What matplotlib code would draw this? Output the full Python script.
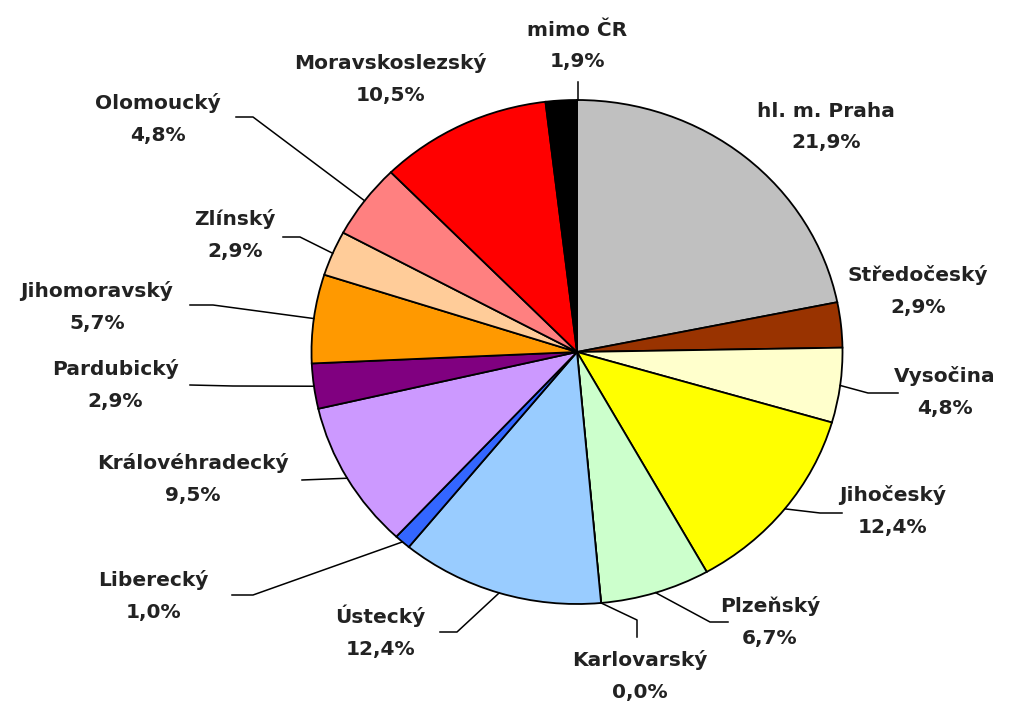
import numpy as np
import matplotlib
matplotlib.use("Agg")
import matplotlib.pyplot as plt

# ─── Data ─────────────────────────────────────────────────────────────
regions = ["hl. m. Praha", "Středočeský", "Vysočina", "Jihočeský", "Plzeňský",
           "Karlovarský", "Ústecký", "Liberecký", "Královéhradecký", "Pardubický",
           "Jihomoravský", "Zlínský", "Olomoucký", "Moravskoslezský", "mimo ČR"]
shares = [21.9, 2.9, 4.8, 12.4, 6.7, 0.0, 12.4, 1.0, 9.5, 2.9, 5.7, 2.9, 4.8, 10.5, 1.9]
share_labels = ["21,9%", "2,9%", "4,8%", "12,4%", "6,7%", "0,0%", "12,4%", "1,0%",
                "9,5%", "2,9%", "5,7%", "2,9%", "4,8%", "10,5%", "1,9%"]
colors = ["#C0C0C0", "#993300", "#FFFFCC", "#FFFF00", "#CCFFCC", "#FFFFFF",
          "#99CCFF", "#3366FF", "#CC99FF", "#800080", "#FF9900", "#FFCC99",
          "#FF8080", "#FF0000", "#000000"]

# ─── Layout (pixels in the 1018x702 image) ─────────────────────────────
W, H = 1018, 702
CX, CY = 577, 352       # pie centre
RX, RY = 265.5, 252     # pie radii (picture is slightly squashed)

label_pos = {
    "hl. m. Praha": (826, 127), "Středočeský": (918, 291), "Vysočina": (945, 392),
    "Jihočeský": (893, 511), "Plzeňský": (770, 622), "Karlovarský": (640, 676),
    "Ústecký": (380, 632), "Liberecký": (153, 596), "Královéhradecký": (193, 479),
    "Pardubický": (115, 385), "Jihomoravský": (97, 307), "Zlínský": (235, 235),
    "Olomoucký": (158, 119), "Moravskoslezský": (390, 79), "mimo ČR": (577, 46),
}
# leader elbows after the point on the pie edge
leaders = {
    "Vysočina": [(868, 393), (898, 393)],
    "Jihočeský": [(820, 513), (842, 513)],
    "Plzeňský": [(710, 622), (728, 622)],
    "Karlovarský": [(637, 620), (637, 637)],
    "Ústecký": [(457, 632), (440, 632)],
    "Liberecký": [(253, 595), (232, 595)],
    "Královéhradecký": [(302, 480)],
    "Pardubický": [(233, 386), (190, 385)],
    "Jihomoravský": [(213, 305), (190, 305)],
    "Zlínský": [(300, 237), (283, 237)],
    "Olomoucký": [(253, 117), (236, 117)],
    "mimo ČR": [(578, 82)],
}
# leader start points that don't sit at the wedge middle
leader_start = {"mimo ČR": (578, 100)}


def px(x, y):
    """Pixel position -> data coordinates of the full-figure axes."""
    return (x - CX) / RX, (CY - y) / RY


fig = plt.figure(figsize=(W / 100, H / 100), dpi=100)
ax = fig.add_axes([0, 0, 1, 1])

wedges, _ = ax.pie(shares, colors=colors, startangle=90, counterclock=False,
                   radius=1, center=(0, 0), frame=True,
                   wedgeprops=dict(edgecolor="black", linewidth=1.3))
ax.set_xlim(px(0, 0)[0], px(W, 0)[0])
ax.set_ylim(px(0, H)[1], px(0, 0)[1])
ax.set_aspect("auto")
ax.axis("off")

total = sum(shares)
cum = np.cumsum([0] + shares[:-1])
for name, val, lab, start in zip(regions, shares, share_labels, cum):
    if name in leaders:
        if name in leader_start:
            p0 = px(*leader_start[name])
        else:
            mid = np.deg2rad(90 - 360 * (start + val / 2) / total)
            p0 = (np.cos(mid), np.sin(mid))
        pts = [p0] + [px(*p) for p in leaders[name]]
        xs, ys = zip(*pts)
        ax.plot(xs, ys, color="black", linewidth=1.1, zorder=1)
    lx, ly = px(*label_pos[name])
    ax.text(lx, ly, f"{name}\n{lab}", ha="center", va="center",
            fontsize=14.5, fontweight="bold", color="#222222", linespacing=1.85)

fig.savefig("out.png", dpi=100, facecolor="white")
